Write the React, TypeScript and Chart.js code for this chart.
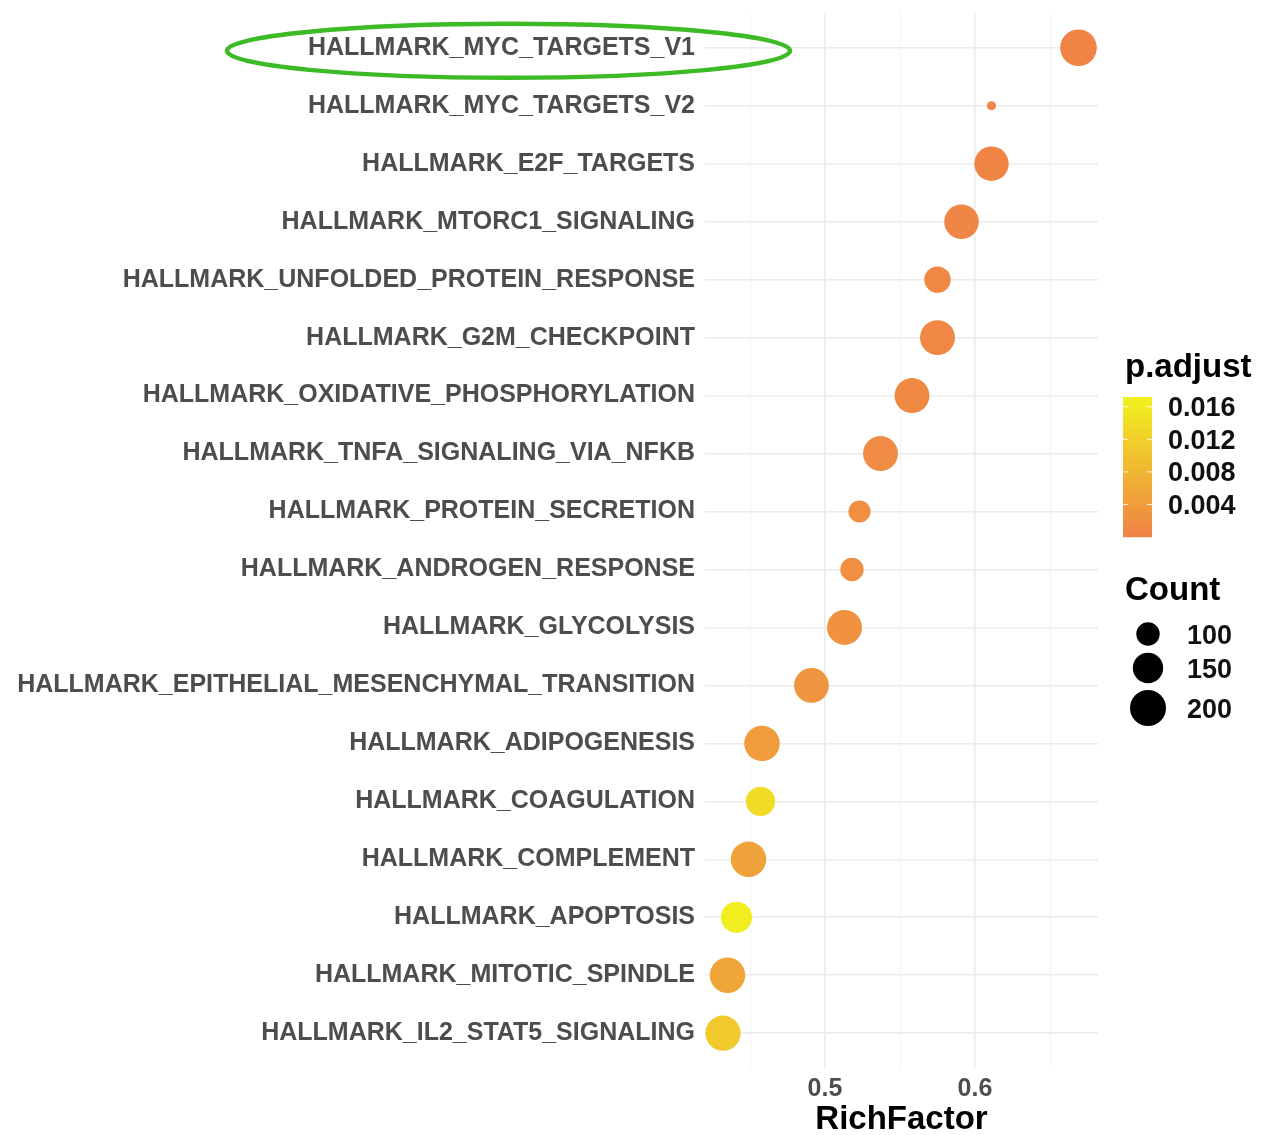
import React, { useEffect, useRef } from "react";
import { Chart, registerables } from "chart.js";

Chart.register(...registerables);

// ---------- data ----------
const pathways = [
  "HALLMARK_MYC_TARGETS_V1",
  "HALLMARK_MYC_TARGETS_V2",
  "HALLMARK_E2F_TARGETS",
  "HALLMARK_MTORC1_SIGNALING",
  "HALLMARK_UNFOLDED_PROTEIN_RESPONSE",
  "HALLMARK_G2M_CHECKPOINT",
  "HALLMARK_OXIDATIVE_PHOSPHORYLATION",
  "HALLMARK_TNFA_SIGNALING_VIA_NFKB",
  "HALLMARK_PROTEIN_SECRETION",
  "HALLMARK_ANDROGEN_RESPONSE",
  "HALLMARK_GLYCOLYSIS",
  "HALLMARK_EPITHELIAL_MESENCHYMAL_TRANSITION",
  "HALLMARK_ADIPOGENESIS",
  "HALLMARK_COAGULATION",
  "HALLMARK_COMPLEMENT",
  "HALLMARK_APOPTOSIS",
  "HALLMARK_MITOTIC_SPINDLE",
  "HALLMARK_IL2_STAT5_SIGNALING",
];
const richFactor = [
  0.669, 0.611, 0.611, 0.591, 0.575, 0.575, 0.558, 0.537, 0.523, 0.518,
  0.513, 0.491, 0.458, 0.457, 0.449, 0.441, 0.435, 0.432,
];
const geneCount = [
  206, 38, 185, 186, 120, 190, 190, 190, 92, 100, 190, 188, 195, 142, 195,
  157, 195, 193,
];
const pAdjust = [
  0.0002, 0.0005, 0.0003, 0.0006, 0.001, 0.0008, 0.0012, 0.0015, 0.002,
  0.002, 0.0025, 0.003, 0.004, 0.014, 0.005, 0.0168, 0.0055, 0.011,
];
const xGridTicks = [0.45, 0.5, 0.55, 0.6, 0.65];
const xLabelTicks = [0.5, 0.6];
const colorbarTicks = [0.016, 0.012, 0.008, 0.004];
const countLegend = [100, 150, 200];
const xTitle = "RichFactor";
const colorTitle = "p.adjust";
const sizeTitle = "Count";

// ---------- helpers ----------
const FONT = '"Liberation Sans", Arial, Helvetica, sans-serif';
const P_MIN = 0;
const P_MAX = 0.0172;
const LOW = [240, 130, 70];
const HIGH = [241, 241, 30];

function pColor(p: number): string {
  const t = Math.max(0, Math.min(1, (p - P_MIN) / (P_MAX - P_MIN)));
  const c = LOW.map((l, i) => Math.round(l + (HIGH[i] - l) * t));
  return `rgb(${c[0]},${c[1]},${c[2]})`;
}
function countRadius(c: number): number {
  return Math.sqrt(Math.max(4, 137 + 1.87 * (c - 100)));
}
const zeroPadding = () => ({ left: 0, top: 0, right: 0, bottom: 0 });

const legendPlugin = {
  id: "customLegend",
  afterDraw(chart: any) {
    const ctx = chart.ctx as CanvasRenderingContext2D;
    ctx.save();
    // ellipse around first label
    const yS = chart.scales.y;
    ctx.font = `bold 25px ${FONT}`;
    const w = ctx.measureText(pathways[0]).width;
    const right = yS.right - 10;
    const cy = yS.getPixelForValue(1) + 3;
    const cx = right - w / 2 + 7;
    ctx.beginPath();
    ctx.ellipse(cx, cy, w / 2 + 88, 27, 0, 0, Math.PI * 2);
    ctx.strokeStyle = "#3dbb26";
    ctx.lineWidth = 4.5;
    ctx.stroke();

    // colour legend
    const lx = 1125;
    ctx.fillStyle = "#000";
    ctx.textAlign = "left";
    ctx.textBaseline = "middle";
    ctx.font = `bold 33px ${FONT}`;
    ctx.fillText(colorTitle, lx, 368);
    const bx = 1123, bw = 29, bTop = 397, bBot = 537;
    for (let yy = bTop; yy < bBot; yy++) {
      const v = P_MIN + ((bBot - yy - 0.5) / (bBot - bTop)) * (P_MAX - P_MIN);
      ctx.fillStyle = pColor(v);
      ctx.fillRect(bx, yy, bw, 1.2);
    }
    ctx.font = `bold 27px ${FONT}`;
    colorbarTicks.forEach((v) => {
      const yy = bBot - ((v - P_MIN) / (P_MAX - P_MIN)) * (bBot - bTop);
      ctx.strokeStyle = "rgba(255,255,255,0.9)";
      ctx.lineWidth = 1;
      ctx.beginPath();
      ctx.moveTo(bx, yy);
      ctx.lineTo(bx + 5, yy);
      ctx.moveTo(bx + bw - 5, yy);
      ctx.lineTo(bx + bw, yy);
      ctx.stroke();
      ctx.fillStyle = "#111";
      ctx.fillText(v.toFixed(3), 1168, yy + 2);
    });

    // size legend
    ctx.fillStyle = "#000";
    ctx.font = `bold 33px ${FONT}`;
    ctx.fillText(sizeTitle, lx, 591);
    const dotY = [634, 668, 708];
    ctx.font = `bold 27px ${FONT}`;
    countLegend.forEach((c, i) => {
      ctx.fillStyle = "#000";
      ctx.beginPath();
      ctx.arc(1148, dotY[i], countRadius(c), 0, Math.PI * 2);
      ctx.fill();
      ctx.fillStyle = "#111";
      ctx.fillText(String(c), 1187, dotY[i] + 3);
    });
    ctx.restore();
  },
};

export default function App() {
  const ref = useRef<HTMLCanvasElement | null>(null);

  useEffect(() => {
    if (!ref.current) return;
    const data = pathways.map((_, i) => ({
      x: richFactor[i],
      y: i + 1,
      r: countRadius(geneCount[i]),
    }));
    const chart = new Chart(ref.current, {
      type: "bubble",
      data: {
        datasets: [
          {
            data,
            backgroundColor: pAdjust.map(pColor),
            borderWidth: 0,
            hoverBorderWidth: 0,
            clip: false,
          },
        ],
      },
      plugins: [legendPlugin],
      options: {
        responsive: false,
        animation: false,
        devicePixelRatio: 1,
        layout: {
          autoPadding: false,
          padding: { left: 0, right: 164, top: 13, bottom: 0 },
        },
        plugins: {
          legend: { display: false },
          tooltip: { enabled: false },
        },
        scales: {
          x: {
            type: "linear",
            min: 0.42,
            max: 0.682,
            afterBuildTicks: (s: any) => {
              s.ticks = xGridTicks.map((v) => ({ value: v }));
            },
            afterFit: (s: any) => {
              s.height = 67;
              s.paddingLeft = 0;
              s.paddingRight = 0;
              s.paddingTop = 0;
              s.paddingBottom = 0;
              s.getPadding = zeroPadding;
            },
            border: { display: false },
            grid: {
              drawTicks: false,
              color: (c: any) =>
                xLabelTicks.some((m) => Math.abs(m - c.tick?.value) < 1e-9)
                  ? "#ebebeb"
                  : "#f3f3f3",
              lineWidth: (c: any) =>
                xLabelTicks.some((m) => Math.abs(m - c.tick?.value) < 1e-9)
                  ? 1.6
                  : 1,
            },
            ticks: {
              padding: 6,
              autoSkip: false,
              maxRotation: 0,
              minRotation: 0,
              color: "#4d4d4d",
              font: { family: FONT, size: 25, weight: "bold" },
              callback: (v: any) =>
                xLabelTicks.some((m) => Math.abs(m - v) < 1e-9)
                  ? Number(v).toFixed(1)
                  : "",
            },
            title: {
              display: true,
              text: xTitle,
              color: "#000",
              padding: { top: 0, bottom: -5 },
              font: { family: FONT, size: 33, weight: "bold" },
            },
          },
          y: {
            type: "linear",
            min: 0.4,
            max: 18.6,
            reverse: true,
            afterBuildTicks: (s: any) => {
              s.ticks = pathways.map((_, i) => ({ value: i + 1 }));
            },
            afterFit: (s: any) => {
              s.width = 705;
              s.paddingTop = 0;
              s.paddingBottom = 0;
              s.paddingLeft = 0;
              s.paddingRight = 0;
              s.getPadding = zeroPadding;
            },
            border: { display: false },
            grid: { drawTicks: false, color: "#ebebeb", lineWidth: 1.6 },
            ticks: {
              padding: 10,
              autoSkip: false,
              color: "#4d4d4d",
              font: { family: FONT, size: 25, weight: "bold" },
              callback: (v: any) => pathways[Math.round(v) - 1] ?? "",
            },
          },
        },
      },
    });
    return () => chart.destroy();
  }, []);

  return (
    <div
      style={{
        position: "absolute",
        left: 0,
        top: 0,
        width: 1262,
        height: 1135,
        background: "#fff",
      }}
    >
      <canvas ref={ref} width={1262} height={1135} />
    </div>
  );
}
